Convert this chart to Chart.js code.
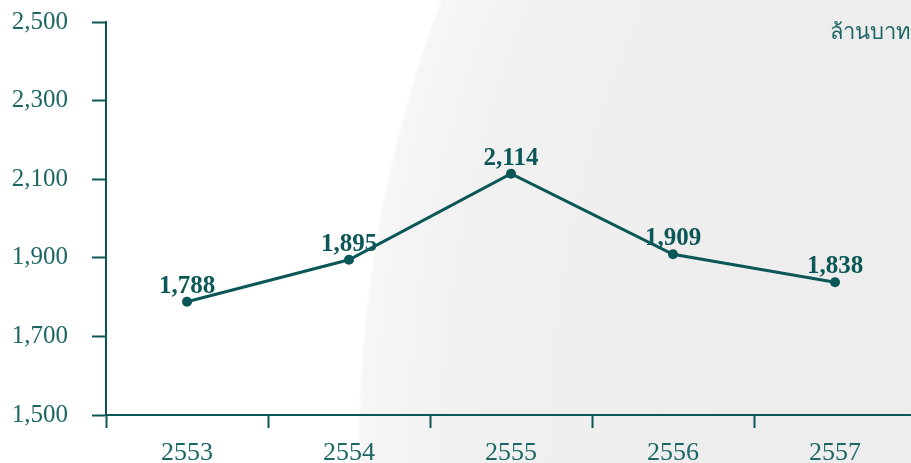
<!DOCTYPE html>
<html>
<head>
<meta charset="utf-8">
<script src="https://cdn.jsdelivr.net/npm/chart.js@4.4.0/dist/chart.umd.min.js"></script>
<style>
  html, body { margin: 0; padding: 0; width: 911px; height: 463px; overflow: hidden; }
  #wrap {
    position: relative; width: 911px; height: 463px; overflow: hidden;
    background: radial-gradient(circle 1271px at 1629px 449px, #eaebea 0px, #ecedec 900px, #f0f1f0 1180px, #f5f6f5 1268px, #ffffff 1271px);
  }
</style>
</head>
<body>
<div id="wrap"><canvas id="c"></canvas></div>
<script>
const categories = ["2553", "2554", "2555", "2556", "2557"];
const values = [1788, 1895, 2114, 1909, 1838];
const yTicks = [1500, 1700, 1900, 2100, 2300, 2500];
const unitLabel = "ล้านบาท";

const TEAL = "#0b5757";
const TEXT = "#1d6666";

const fmt = v => v.toLocaleString("en-US");

// The original plot area runs slightly past the right edge of the image.
const extendPlot = {
  id: "extendPlot",
  afterLayout(chart) {
    const x = chart.scales.x;
    x.right = x.left + 810;
    x.width = 810;
    x.configure();
    chart.chartArea.right = x.right;
    chart.chartArea.width = x.right - chart.chartArea.left;
  }
};

const labelPlugin = {
  id: "valueLabels",
  afterDatasetsDraw(chart) {
    const ctx = chart.ctx;
    const meta = chart.getDatasetMeta(0);
    ctx.save();
    ctx.fillStyle = TEAL;
    ctx.font = "bold 25px 'Liberation Serif', serif";
    ctx.textAlign = "center";
    ctx.textBaseline = "alphabetic";
    meta.data.forEach((pt, i) => {
      ctx.fillText(fmt(values[i]), pt.x, pt.y - 9);
    });
    ctx.font = "22px 'Noto Sans', 'DejaVu Sans', sans-serif";
    ctx.fillStyle = TEXT;
    ctx.textAlign = "right";
    ctx.textBaseline = "middle";
    ctx.fillText(unitLabel, 911, 33);
    ctx.restore();
  }
};

new Chart(document.getElementById("c"), {
  type: "line",
  data: {
    labels: categories,
    datasets: [{
      data: values,
      borderColor: TEAL,
      backgroundColor: TEAL,
      borderWidth: 3,
      pointRadius: 5,
      pointHoverRadius: 5,
      pointBackgroundColor: TEAL,
      pointBorderWidth: 0,
      tension: 0,
      fill: false
    }]
  },
  options: {
    responsive: true,
    maintainAspectRatio: false,
    animation: false,
    layout: { padding: { top: 22, right: 0, left: 0, bottom: 0 } },
    plugins: { legend: { display: false }, tooltip: { enabled: false } },
    scales: {
      x: {
        type: "category",
        offset: true,
        grid: {
          display: true,
          drawOnChartArea: false,
          drawTicks: true,
          tickLength: 13,
          tickWidth: 2,
          color: TEAL,
          offset: true
        },
        border: { display: true, color: TEAL, width: 2 },
        ticks: {
          color: TEXT,
          font: { family: "'Liberation Serif', serif", size: 26 },
          padding: 10,
          maxRotation: 0
        },
        afterFit(scale) { scale.height = 48; scale.paddingLeft = 0; scale.paddingRight = 0; }
      },
      y: {
        min: 1500,
        max: 2500,
        afterBuildTicks(scale) { scale.ticks = yTicks.map(v => ({ value: v })); },
        grid: {
          display: true,
          drawOnChartArea: false,
          drawTicks: true,
          tickLength: 14,
          tickWidth: 2,
          color: TEAL
        },
        border: { display: true, color: TEAL, width: 2 },
        ticks: {
          color: TEXT,
          font: { family: "'Liberation Serif', serif", size: 25 },
          padding: 24,
          callback: v => fmt(v)
        },
        afterFit(scale) { scale.width = 106; scale.paddingTop = 0; scale.paddingBottom = 0; }
      }
    }
  },
  plugins: [extendPlot, labelPlugin]
});
</script>
</body>
</html>
